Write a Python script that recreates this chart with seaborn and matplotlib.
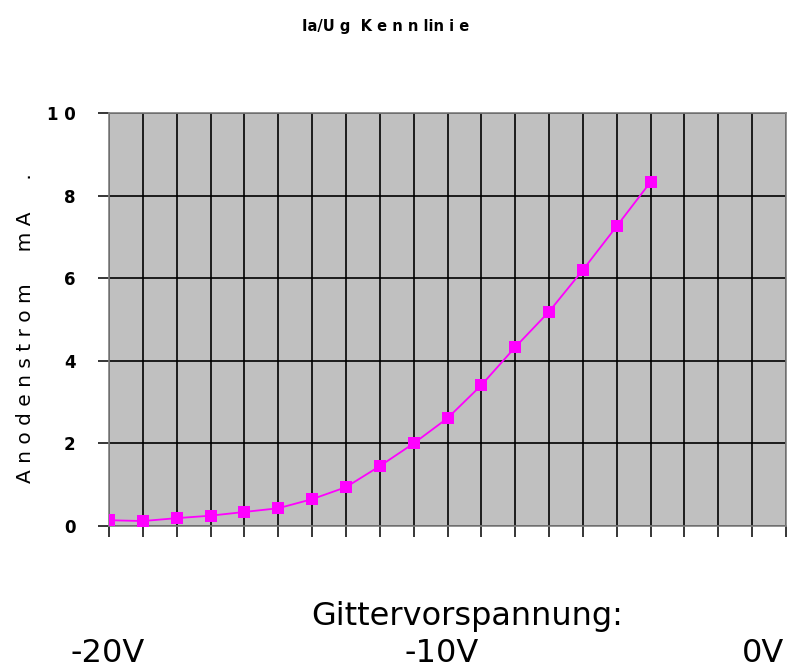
import matplotlib
matplotlib.use("Agg")
import matplotlib.pyplot as plt
import numpy as np
import pandas as pd
import seaborn as sns

# Daten: Gitterspannung (V) und Anodenstrom (mA)
gitter_v = [-20, -19, -18, -17, -16, -15, -14, -13, -12, -11, -10, -9, -8, -7, -6, -5, -4]
anoden_ma = [0.14, 0.12, 0.19, 0.25, 0.34, 0.43, 0.65, 0.94, 1.45, 2.0, 2.61, 3.41, 4.33, 5.19, 6.2, 7.26, 8.33]
y_ticks = [0, 2, 4, 6, 8, 10]
y_labels = ["0", "2", "4", "6", "8", "1 0"]

df = pd.DataFrame({"Ug": gitter_v, "Ia": anoden_ma})

sns.set_style("white")
plt.rcParams["font.family"] = ["DejaVu Sans"]
plt.rcParams["text.color"] = "black"

fig = plt.figure(figsize=(7.91, 6.68), dpi=100)
ax = fig.add_axes([109 / 791, 1 - 526 / 668, 677 / 791, 413 / 668])
ax.set_facecolor("#C0C0C0")

sns.lineplot(data=df, x="Ug", y="Ia", ax=ax, color="#FF00FF", linewidth=1.3,
             marker="s", markersize=8.5, markeredgewidth=0, zorder=5)

ax.set_xlim(-20, 0)
ax.set_ylim(0, 10)
ax.set_xticks(np.arange(-20, 1, 1))
ax.set_yticks(y_ticks)
ax.set_xticklabels([])
ax.set_yticklabels(y_labels, fontweight="bold", fontsize=12, color="black")
ax.tick_params(axis="both", direction="out", length=8, width=1.1, color="black",
               bottom=True, left=True, pad=16)
ax.grid(True, color="black", linewidth=1.2)
ax.set_axisbelow(True)
for sp in ax.spines.values():
    sp.set_color("#808080")
    sp.set_linewidth(1.2)
ax.set_xlabel("")
ax.set_ylabel("")

fig.text(26 / 791, 1 - 328 / 668, "A n o d e n s t r o m     m A     .", rotation=90,
         ha="center", va="center", fontsize=14.5)
fig.text(386 / 791, 1 - 27 / 668, "Ia/U g  K e n n lin i e", ha="center", va="center",
         fontsize=10.5, fontweight="bold")
fig.text(467 / 791, 1 - 617 / 668, "Gittervorspannung:", ha="center", va="center", fontsize=23)
fig.text(108 / 791, 1 - 654 / 668, "-20V", ha="center", va="center", fontsize=23)
fig.text(442 / 791, 1 - 654 / 668, "-10V", ha="center", va="center", fontsize=23)
fig.text(742 / 791, 1 - 654 / 668, "0V", ha="left", va="center", fontsize=23)

fig.savefig("out.png", dpi=100)
